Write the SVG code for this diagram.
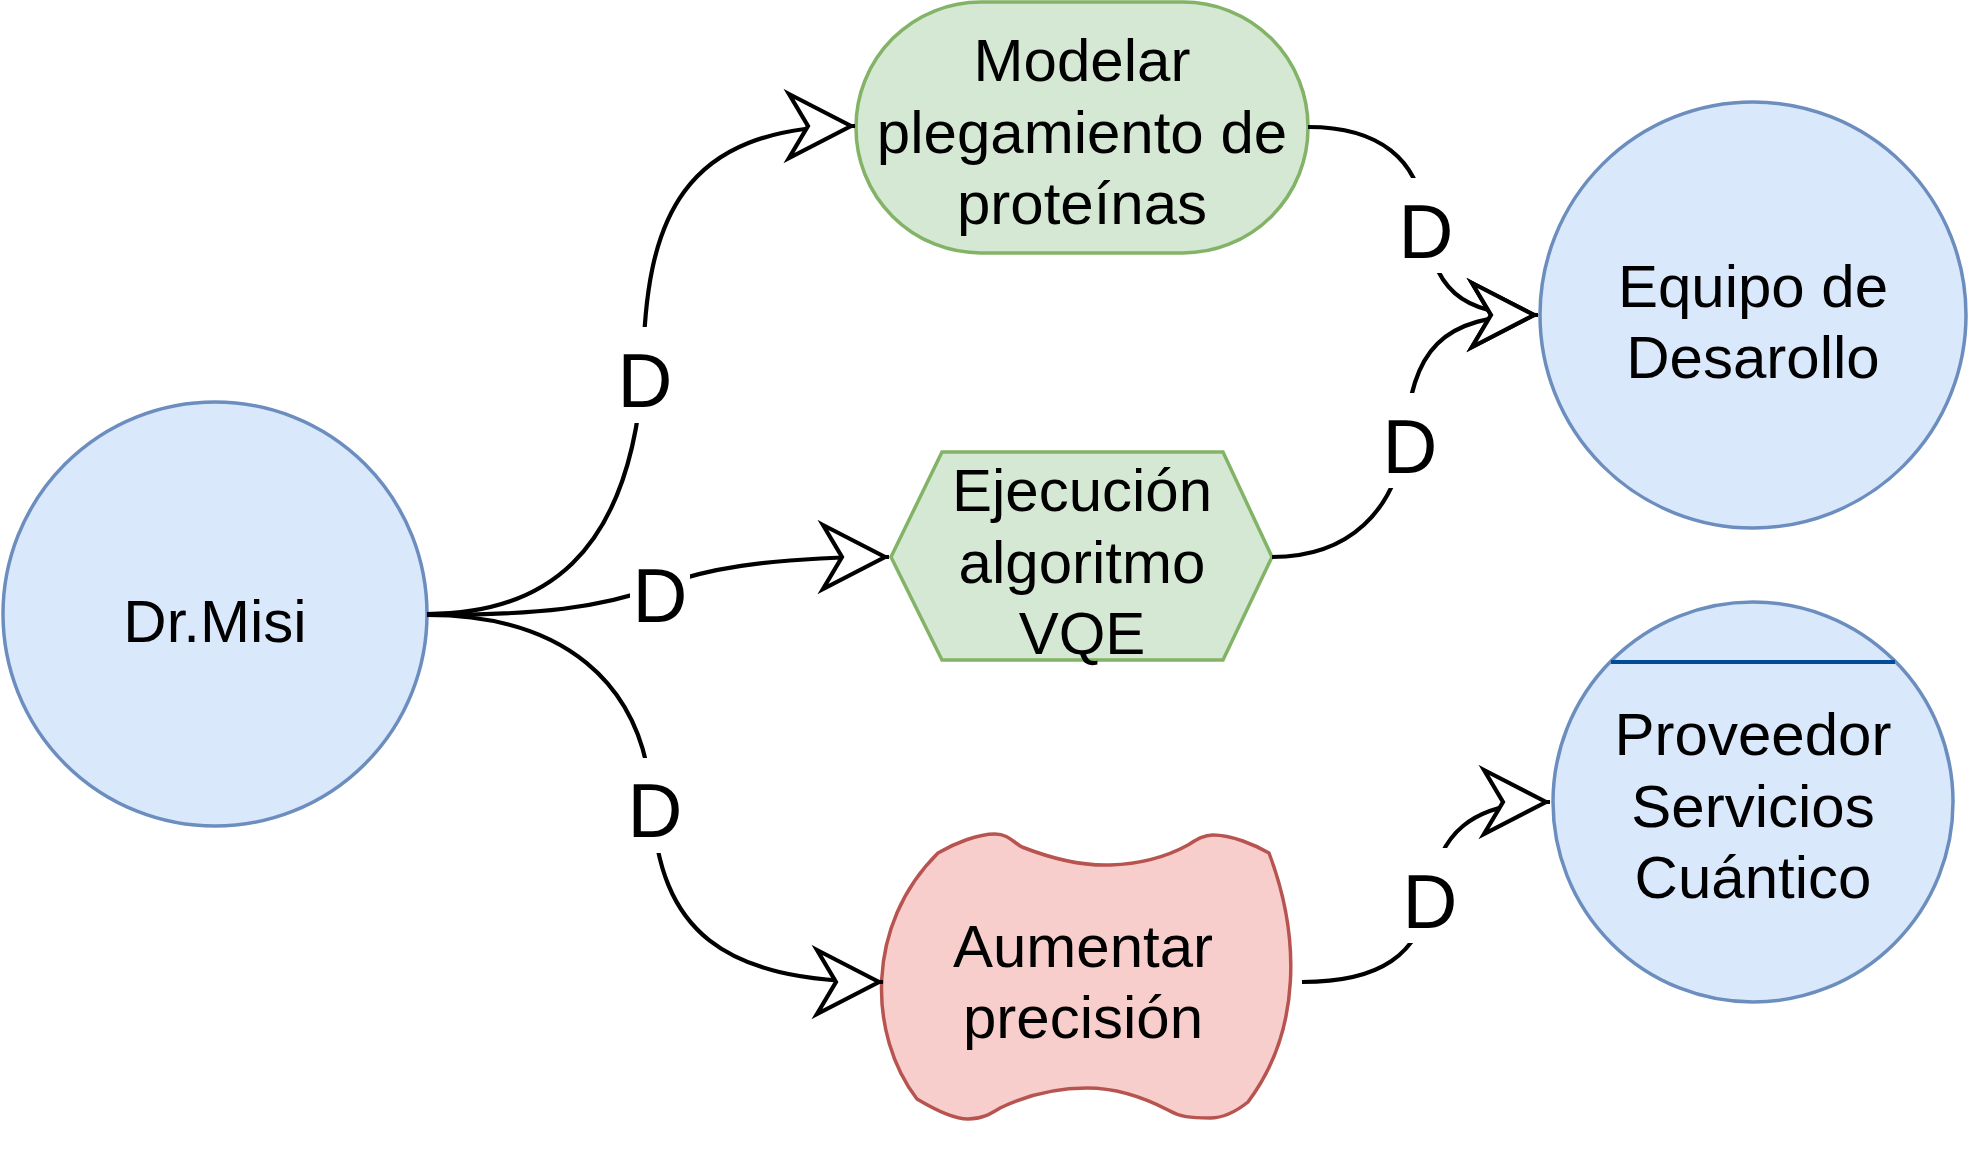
<svg xmlns="http://www.w3.org/2000/svg" width="1970" height="1160" viewBox="0 0 1970 1160">
<style>
  text { font-family: "Liberation Sans", Arial, Helvetica, sans-serif; fill: #000000; text-anchor: middle; }
  .node { font-size: 60px; }
  .lbl { font-size: 76px; }
  .blue { fill: #dae8fc; stroke: #6c8ebf; stroke-width: 3.5; }
  .green { fill: #d5e8d4; stroke: #82b366; stroke-width: 3.5; }
  .red { fill: #f8cecc; stroke: #b85450; stroke-width: 3.5; }
  .edge { fill: none; stroke: #000000; stroke-width: 4.2; marker-end: url(#arrow); }
  .lblbg { fill: #ffffff; stroke: none; }
</style>
<defs>
  <marker id="arrow" markerUnits="userSpaceOnUse" markerWidth="90" markerHeight="90" refX="0" refY="0" orient="auto" overflow="visible" viewBox="-80 -45 90 90">
    <path d="M -66 -32 L -4 0 L -66 32 L -47 0 Z" fill="#ffffff" stroke="#000000" stroke-width="4.2" stroke-linejoin="miter"/>
  </marker>
</defs>
<rect x="0" y="0" width="1970" height="1160" fill="#ffffff"/>

<g id="node-drmisi">
  <circle class="blue" cx="215" cy="614" r="212"/>
  <text class="node" x="215" y="642">Dr.Misi</text>
</g>
<g id="node-modelar">
  <rect class="green" x="856" y="2" width="452" height="251" rx="125" ry="125"/>
  <text class="node" x="1082" y="81">Modelar</text>
  <text class="node" x="1082" y="153">plegamiento de</text>
  <text class="node" x="1082" y="224">proteínas</text>
</g>
<g id="node-ejecucion">
  <polygon class="green" points="891,557 942,452 1223,452 1272,557 1223,660 942,660"/>
  <text class="node" x="1082" y="511">Ejecución</text>
  <text class="node" x="1082" y="583">algoritmo</text>
  <text class="node" x="1082" y="654">VQE</text>
</g>
<g id="node-aumentar">
  <path class="red" d="M 938 853 C 955 843, 978 834, 995 834 C 1008 834, 1013 842, 1022 847 C 1050 858, 1080 866, 1110 865 C 1140 864, 1168 856, 1188 845 C 1196 840, 1203 835, 1213 835 C 1232 835, 1255 845, 1269 853 C 1300 935, 1302 1030, 1248 1102 C 1238 1110, 1225 1118, 1210 1118 C 1190 1118, 1180 1117, 1168 1110 C 1145 1098, 1115 1088, 1087 1088 C 1055 1088, 1025 1096, 1000 1108 C 990 1114, 982 1119, 968 1119 C 952 1119, 932 1108, 917 1099 C 868 1035, 865 925, 938 853 Z"/>
  <text class="node" x="1083" y="967">Aumentar</text>
  <text class="node" x="1083" y="1038">precisión</text>
</g>
<g id="node-equipo">
  <circle class="blue" cx="1753" cy="315" r="213"/>
  <text class="node" x="1753" y="307">Equipo de</text>
  <text class="node" x="1753" y="378">Desarollo</text>
</g>
<g id="node-proveedor">
  <circle class="blue" cx="1753" cy="802" r="200"/>
  <line x1="1611" y1="662" x2="1895" y2="662" stroke="#004C99" stroke-width="4"/>
  <text class="node" x="1753" y="755">Proveedor</text>
  <text class="node" x="1753" y="827">Servicios</text>
  <text class="node" x="1753" y="898">Cuántico</text>
</g>

<g id="connectors">
  <path class="edge" d="M 427 614 C 540 614, 630 560, 643 370 C 645 220, 680 126, 855 126"/>
  <path class="edge" d="M 427 615 C 540 615, 600 608, 660 586 C 700 571, 760 557, 889 557"/>
  <path class="edge" d="M 427 615 C 560 615, 645 680, 652 805 C 660 930, 720 982, 883 982"/>
  <path class="edge" d="M 1308 127 C 1380 127, 1418 160, 1424 215 C 1432 290, 1460 315, 1538 315"/>
  <path class="edge" d="M 1272 557 C 1350 557, 1395 510, 1405 440 C 1412 350, 1440 315, 1538 315"/>
  <path class="edge" d="M 1302 982 C 1380 982, 1420 955, 1430 895 C 1438 835, 1470 802, 1550 802"/>
  <g id="labels">
    <rect class="lblbg" x="616" y="327" width="60" height="96"/>
    <text class="lbl" x="645" y="407">D</text>
    <rect class="lblbg" x="630" y="547" width="60" height="96"/>
    <text class="lbl" x="660" y="622">D</text>
    <rect class="lblbg" x="626" y="758" width="60" height="95"/>
    <text class="lbl" x="655" y="837">D</text>
    <rect class="lblbg" x="1396" y="178" width="60" height="95"/>
    <text class="lbl" x="1426" y="258">D</text>
    <rect class="lblbg" x="1381" y="393" width="60" height="95"/>
    <text class="lbl" x="1410" y="473">D</text>
    <rect class="lblbg" x="1401" y="848" width="60" height="95"/>
    <text class="lbl" x="1430" y="928">D</text>
  </g>
</g>
</svg>
